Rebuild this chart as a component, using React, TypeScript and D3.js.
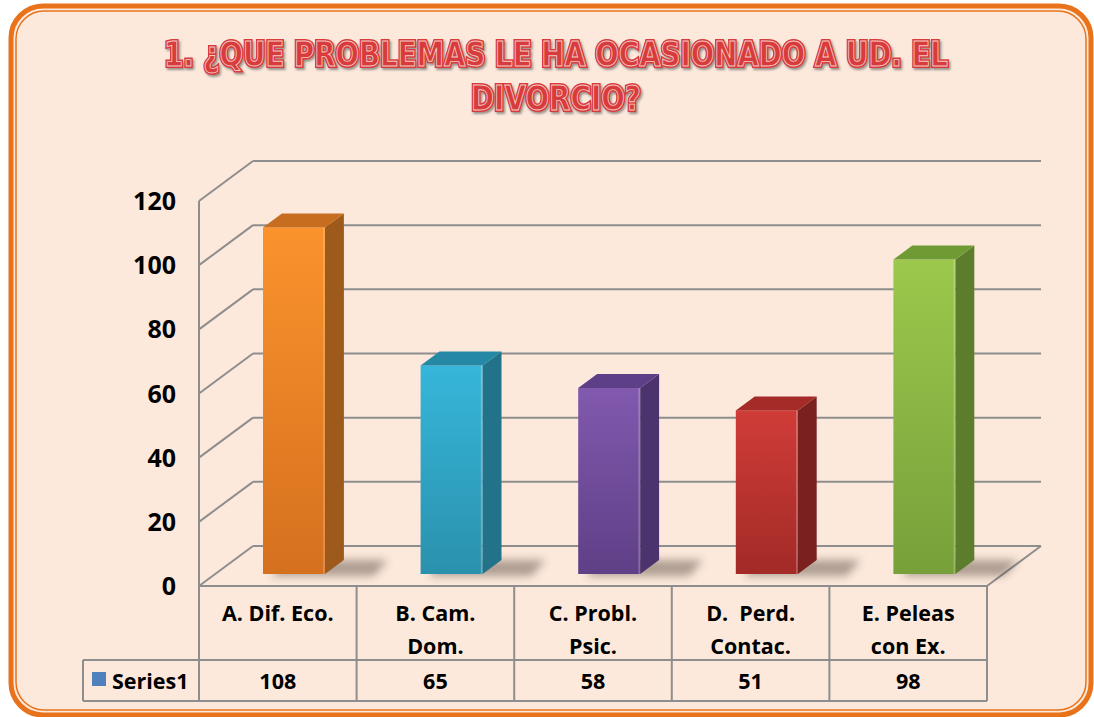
import React from "react";
import * as d3 from "d3";

const titleLines = ["1. ¿QUE PROBLEMAS LE HA OCASIONADO A UD. EL", "DIVORCIO?"];
const categories = [
  ["A. Dif. Eco."],
  ["B. Cam.", "Dom."],
  ["C. Probl.", "Psic."],
  ["D.  Perd.", "Contac."],
  ["E. Peleas", "con Ex."],
];
const values = [108, 65, 58, 51, 98];
const seriesName = "Series1";
const yTicks = [0, 20, 40, 60, 80, 100, 120];
const barFront = ["#FA932C", "#36B6DA", "#8159AE", "#D03C38", "#9CC84C"];
const barFrontDark = ["#D5701F", "#2A91AC", "#5F3F86", "#A22A27", "#77A03A"];
const barSide = ["#9E5A1B", "#22728A", "#4B336E", "#7A2120", "#5C7D2C"];
const barTop = ["#C76D1F", "#2588A4", "#5D3F87", "#A42B28", "#6F9B35"];

const W = 1094;
const H = 717;
const FONT = "'Open Sans', 'Liberation Sans', sans-serif";

export default function App() {
  const x0 = 199;
  const x1 = 987;
  const dx = 54;
  const dy = -40;
  const y = d3.scaleLinear().domain([0, 120]).range([586, 201]);
  const xb = d3.scaleBand<number>().domain(d3.range(categories.length)).range([x0, x1]);
  const f0 = 0.3;
  const f1 = 0.65;
  const barW = 62;
  const gridColor = "#8E8E8E";
  const row1Bottom = 660;
  const row2Bottom = 701;
  const legendLeft = 83;

  return (
    <svg width={W} height={H} style={{ position: "absolute", left: 0, top: 0 }}>
      <defs>
        {values.map((_, i) => (
          <linearGradient key={i} id={`gf${i}`} x1="0" y1="0" x2="0" y2="1">
            <stop offset="0" stopColor={barFront[i]} />
            <stop offset="1" stopColor={barFrontDark[i]} />
          </linearGradient>
        ))}
        <filter id="blur" x="-50%" y="-50%" width="200%" height="200%">
          <feGaussianBlur stdDeviation="4" />
        </filter>
        <filter id="tshadow" x="-10%" y="-10%" width="120%" height="140%">
          <feDropShadow dx="1.5" dy="2" stdDeviation="1.2" floodColor="#555" floodOpacity="0.6" />
        </filter>
      </defs>
      <rect x={0} y={0} width={W} height={H} fill="#FFFFFF" />
      <rect x={11} y={6} width={1080} height={709} rx={32} fill="#FCE9DC" stroke="#E8731A" strokeWidth={5} />
      <rect x={16} y={11} width={1070} height={699} rx={28} fill="none" stroke="#E8731A" strokeWidth={1.5} />

      {/* title */}
      {titleLines.map((t, i) => {
        const props = {
          x: 556,
          y: 66 + i * 44,
          textAnchor: "middle" as const,
          fontFamily: "'DejaVu Sans Condensed', 'DejaVu Sans', sans-serif",
          fontStretch: "condensed",
          fontWeight: 700,
          fontSize: 34,
          textLength: i === 0 ? 784 : 170,
          lengthAdjust: "spacingAndGlyphs",
        };
        return (
          <g key={i}>
            <text {...props} fill="#D83B3B" stroke="#D83B3B" strokeWidth={4} filter="url(#tshadow)">
              {t}
            </text>
            <text {...props} fill="#D83B3B" stroke="#F4C9C4" strokeWidth={0.9}>
              {t}
            </text>
          </g>
        );
      })}

      {/* back wall gridlines and left wall */}
      {yTicks.map((t) => (
        <g key={t}>
          <line x1={x0} y1={y(t)} x2={x0 + dx} y2={y(t) + dy} stroke={gridColor} strokeWidth={2} />
          <line x1={x0 + dx} y1={y(t) + dy} x2={x1 + dx} y2={y(t) + dy} stroke={gridColor} strokeWidth={2} />
        </g>
      ))}
      <line x1={x0} y1={y(120)} x2={x0} y2={y(0)} stroke={gridColor} strokeWidth={2} />
      <line x1={x1} y1={y(0)} x2={x1 + dx} y2={y(0) + dy} stroke={gridColor} strokeWidth={2} />

      {/* tick labels */}
      {yTicks.map((t) => (
        <text key={t} x={176} y={y(t) + 9} textAnchor="end" fontFamily={FONT} fontWeight={700} fontSize={25} fill="#000">
          {t}
        </text>
      ))}

      {/* bars */}
      {values.map((v, i) => {
        const cx = (xb(i) as number) + xb.bandwidth() / 2;
        const fx = cx - barW / 2 + f0 * dx;
        const fyB = y(0) + f0 * dy;
        const fyT = y(v) + f0 * dy;
        const ddx = (f1 - f0) * dx;
        const ddy = (f1 - f0) * dy;
        const shadow = `M${fx + 8},${fyB + 2} L${fx + barW + ddx + 30},${fyB + 2} L${fx + barW + ddx + 44},${fyB + ddy} L${fx + 20},${fyB + ddy} Z`;
        return (
          <g key={i}>
            <path d={shadow} fill="#3a2a20" opacity={0.4} filter="url(#blur)" />
            <rect x={fx} y={fyT} width={barW} height={fyB - fyT} fill={`url(#gf${i})`} />
            <path
              d={`M${fx + barW},${fyT} L${fx + barW + ddx},${fyT + ddy} L${fx + barW + ddx},${fyB + ddy} L${fx + barW},${fyB} Z`}
              fill={barSide[i]}
            />
            <path
              d={`M${fx},${fyT} L${fx + ddx},${fyT + ddy} L${fx + barW + ddx},${fyT + ddy} L${fx + barW},${fyT} Z`}
              fill={barTop[i]}
            />
            <line x1={fx + barW - 1} y1={fyT} x2={fx + barW - 1} y2={fyB} stroke="#ffffff" strokeOpacity={0.25} strokeWidth={1.5} />
          </g>
        );
      })}

      {/* data table */}
      <g stroke={gridColor} strokeWidth={2} fill="none">
        <line x1={x0} y1={y(0)} x2={x1} y2={y(0)} />
        <line x1={x0} y1={row1Bottom} x2={x1} y2={row1Bottom} />
        <line x1={legendLeft} y1={row1Bottom} x2={x0} y2={row1Bottom} />
        <line x1={legendLeft} y1={row2Bottom} x2={x1} y2={row2Bottom} />
        <line x1={legendLeft} y1={row1Bottom} x2={legendLeft} y2={row2Bottom} />
        {d3.range(categories.length + 1).map((i) => {
          const xx = i < categories.length ? (xb(i) as number) : x1;
          return <line key={i} x1={xx} y1={y(0)} x2={xx} y2={row2Bottom} />;
        })}
      </g>
      {categories.map((lines, i) => {
        const cx = (xb(i) as number) + xb.bandwidth() / 2;
        return (
          <g key={i}>
            {lines.map((l, j) => (
              <text key={j} x={cx} y={621 + j * 33} textAnchor="middle" fontFamily={FONT} fontWeight={700} fontSize={21.5} fill="#000" xmlSpace="preserve">
                {l}
              </text>
            ))}
            <text x={cx} y={689} textAnchor="middle" fontFamily={FONT} fontWeight={700} fontSize={21.5} fill="#000">
              {values[i]}
            </text>
          </g>
        );
      })}
      <rect x={92} y={672} width={14} height={14} fill="#4F81BD" />
      <text x={112} y={689} fontFamily={FONT} fontWeight={700} fontSize={21.5} fill="#000">
        {seriesName}
      </text>
    </svg>
  );
}
